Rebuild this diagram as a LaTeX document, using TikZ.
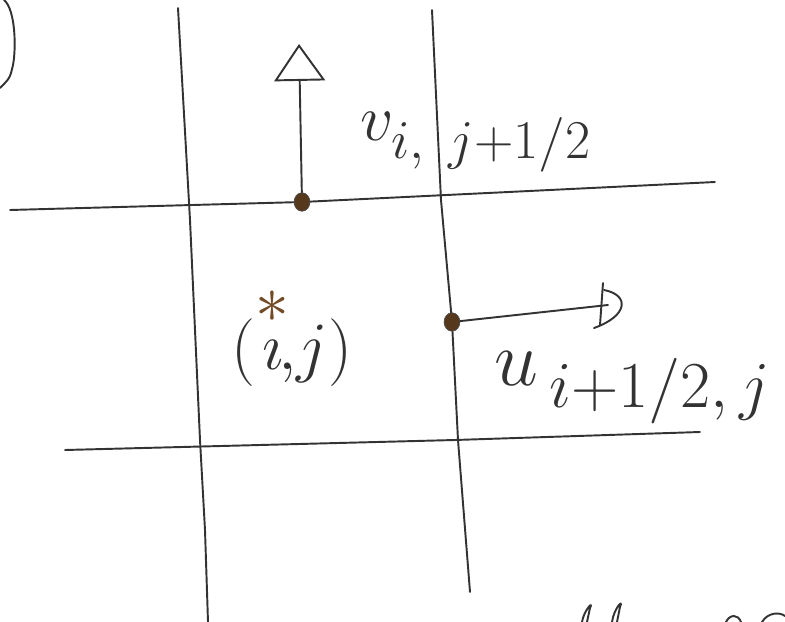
\documentclass[tikz,border=0pt]{standalone}
\usepackage{amsmath,amssymb}
\usepackage{tikz}
\usetikzlibrary{arrows.meta,shapes.geometric}

\begin{document}
\begin{tikzpicture}[x=0.02cm,y=-0.02cm,
  pen/.style={line width=1.1pt, color=black!80, line cap=round, line join=round},
  flux/.style={ellipse, inner sep=0pt, minimum width=9pt, minimum height=10.5pt, fill=brown!45!black, draw=black!70},
  lbl/.style={inner sep=0pt, text=black!80, font=\Huge, transform shape}]
\useasboundingbox (0,0) rectangle (785,622);
% grid lines
\draw [pen] (178,8) -- (190,220) -- (200,440) -- (205,530) -- (208,622);
\draw [pen] (432,10) -- (441,200) -- (452,322) -- (458,440) -- (470,592);
\draw [pen] (10,210) -- (302,202) -- (715,182);
\draw [pen] (65,450) -- (455,440) -- (700,432);
% bit of the previous sketch
\draw [pen] (4,0) .. controls (16,10) and (16,50) .. (13,65) .. controls (10,78) .. (0,88);
% staggered unknowns
\node [flux] (vdot) at (302,202) {};
\node [flux] (udot) at (452,322) {};
\coordinate (vtip) at (299,44);
\coordinate (utip) at (608,305);
\draw [pen, -{Triangle[open, length=21pt, width=29pt]}] (vdot) -- (vtip);
\draw [pen] (udot) -- (utip);
\draw [pen] (603,283) -- (600,325);
\draw [pen] (604,290) .. controls (630,295) and (628,316) .. (594,328);
% labels
\node [lbl, scale=1.5, anchor=base west] (vlabel) at (360,140) {$v_{i,\;\,j+1/2}$};
\node [lbl, scale=1.55] (cell) at (292,335) {$(\overset{\raisebox{1.5pt}{\textcolor{brown!60!black}{$\ast$}}}{\imath}\!,\!j)$};
\node [lbl, scale=1.8, anchor=base west] (ulabel) at (494,385) {$u_{\,i+1/2,\,j}$};
% cut-off writing at the bottom
\draw [pen] (582,622) .. controls (584,610) and (594,600) .. (590,608) -- (587,622);
\draw [pen] (612,622) .. controls (614,608) and (624,598) .. (620,607) -- (617,622);
\draw [pen] (726,622) .. controls (730,614) and (738,614) .. (741,622);
\draw [pen] (762,622) .. controls (768,612) and (780,612) .. (785,616);
\end{tikzpicture}
\end{document}
